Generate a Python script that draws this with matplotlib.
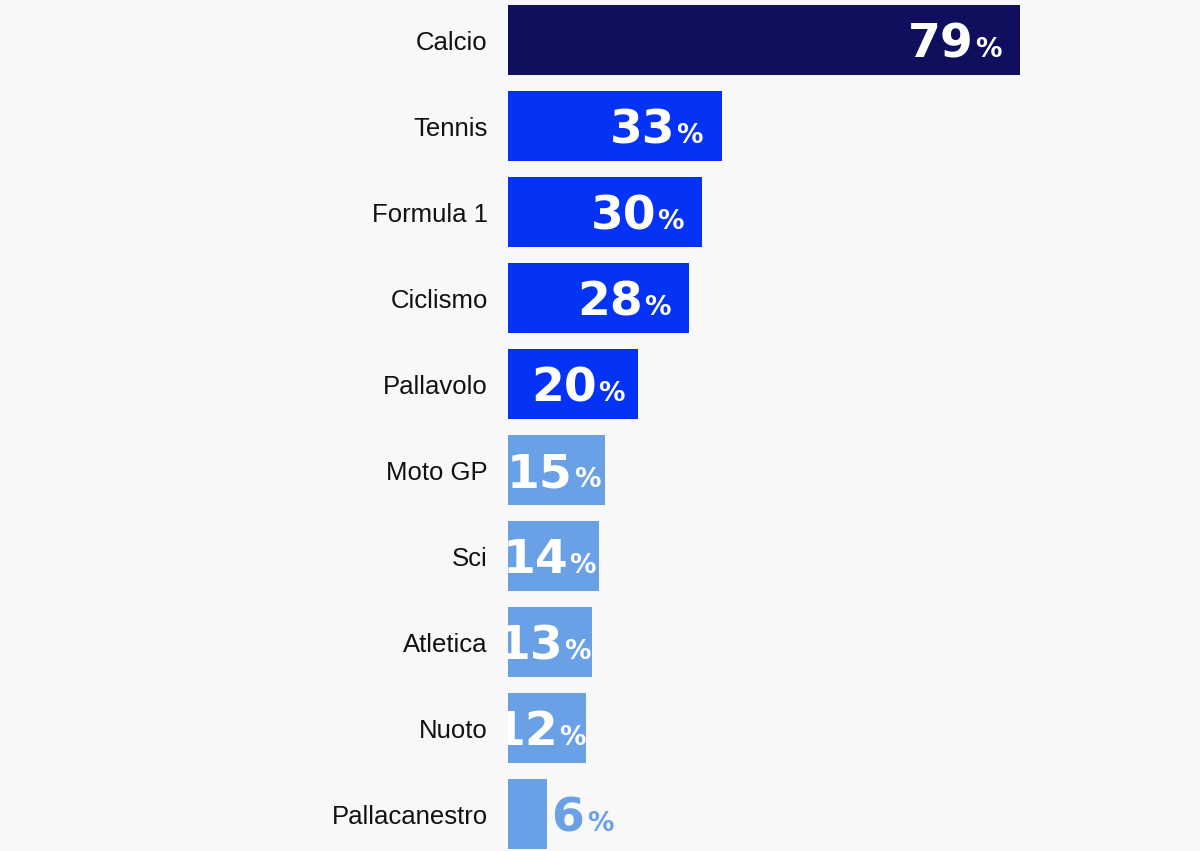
import matplotlib.pyplot as plt
import numpy as np

# data
sports = ['Calcio', 'Tennis', 'Formula 1', 'Ciclismo', 'Pallavolo',
          'Moto GP', 'Sci', 'Atletica', 'Nuoto', 'Pallacanestro']
shares = [79, 33, 30, 28, 20, 15, 14, 13, 12, 6]
groups = ['top', 'mid', 'mid', 'mid', 'mid', 'low', 'low', 'low', 'low', 'low']

group_colors = {'top': '#0f0f5e', 'mid': '#0433f5', 'low': '#6aa0e6'}
bg = '#f8f8f8'

fig = plt.figure(figsize=(12, 8.51), dpi=100)
fig.patch.set_facecolor(bg)
ax = fig.add_axes([508 / 1200, 0, 692 / 1200, 1])
ax.set_facecolor(bg)

px_per_unit = 6.48
ax.set_xlim(0, 692 / px_per_unit)
ax.set_ylim(811 / 86, -40 / 86)

y = np.arange(len(sports))
bars = ax.barh(y, shares, height=70 / 86,
               color=[group_colors[g] for g in groups])

ax.set_yticks(y)
ax.set_yticklabels(sports, fontsize=18.5, family='Liberation Sans', color='#111111')
ax.tick_params(axis='y', length=0, pad=14.5)
ax.tick_params(axis='x', bottom=False, labelbottom=False)
for s in ax.spines.values():
    s.set_visible(False)

fig.canvas.draw()
renderer = fig.canvas.get_renderer()
inv = ax.transData.inverted()

num_font = dict(family='DejaVu Sans', weight='bold', fontsize=34)
pct_font = dict(family='DejaVu Sans', weight='bold', fontsize=19)
baseline = 0.2


def width_data(t):
    bb = t.get_window_extent(renderer)
    x0 = inv.transform((bb.x0, bb.y0))[0]
    x1 = inv.transform((bb.x1, bb.y0))[0]
    return x1 - x0


for i, (v, bar) in enumerate(zip(shares, bars)):
    if v < 10:
        # label outside the bar
        col = group_colors[groups[i]]
        n = ax.text(v + 4 / px_per_unit, i + baseline, str(v), ha='left',
                    va='baseline', color=col, **num_font)
        w = width_data(n)
        ax.text(v + 4 / px_per_unit + w + 3 / px_per_unit, i + baseline, '%',
                ha='left', va='baseline', color=col, **pct_font)
        continue
    pad = min(2.9, max(0, (v - 12) * 0.25))
    p = ax.text(v - pad, i + baseline, '%', ha='right', va='baseline',
                color='white', clip_on=True, **pct_font)
    p.set_clip_path(bar)
    w = width_data(p)
    n = ax.text(v - pad - w - 1 / px_per_unit, i + baseline, str(v),
                ha='right', va='baseline', color='white', clip_on=True, **num_font)
    n.set_clip_path(bar)

fig.savefig('out.png', dpi=100, facecolor=bg)
